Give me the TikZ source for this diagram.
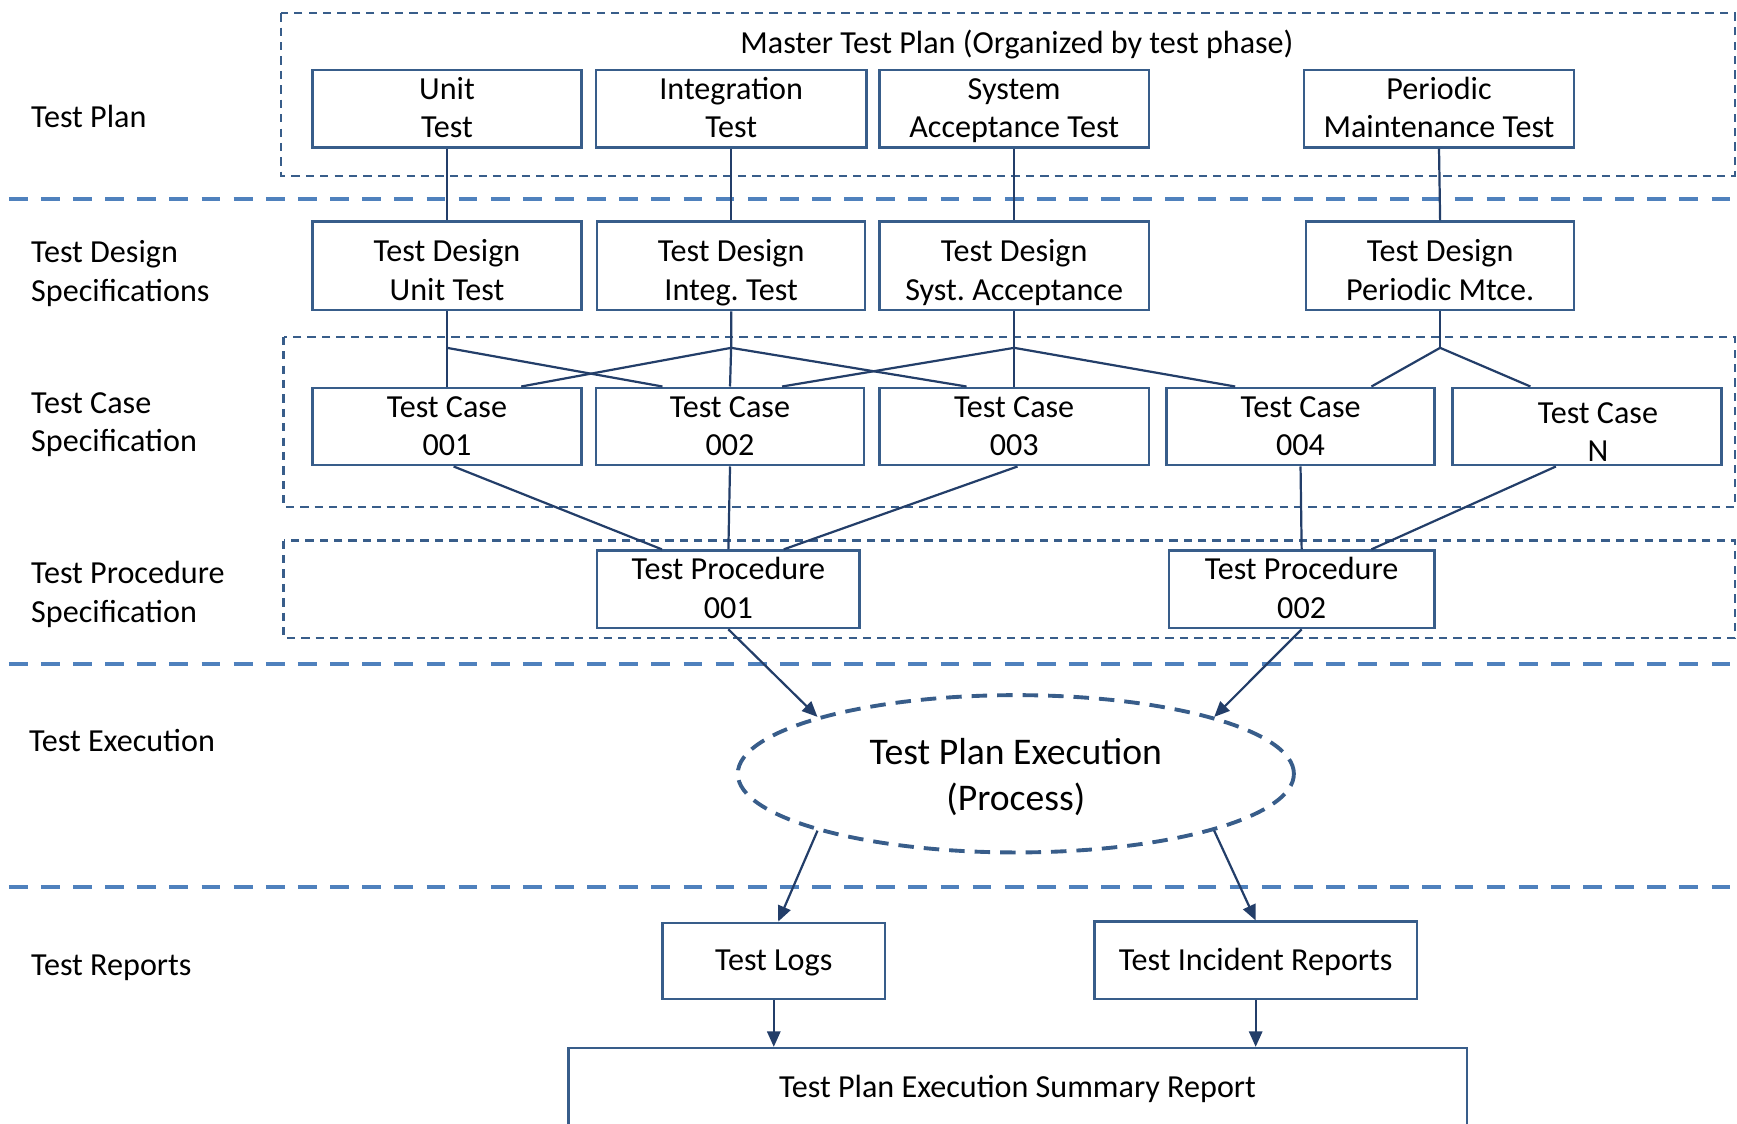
\documentclass[tikz,border=0pt]{standalone}
\usepackage{fontspec}
\setmainfont{Carlito}
\usetikzlibrary{shapes.geometric,arrows.meta}
\definecolor{boxc}{RGB}{56,93,138}
\definecolor{sepc}{RGB}{79,129,189}
\definecolor{linec}{RGB}{35,62,105}
\newcommand{\mystrut}{\rule[-8.5pt]{0pt}{35pt}}
\newcommand{\bigstrut}{\rule[-8pt]{0pt}{41pt}}
\newcommand{\twol}[2]{\mystrut#1\\#2\mystrut}
\newcommand{\onel}[1]{\mystrut#1\mystrut}
\newcommand{\twod}[2]{\rule{0pt}{34.6pt}#1\\#2\rule[-7pt]{0pt}{7pt}}
\begin{document}
\frenchspacing
\begin{tikzpicture}[x=1pt,y=-1pt,
  txt/.style={font=\fontsize{29}{35}\selectfont},
  box/.style={txt,draw=boxc,line width=2.2pt,minimum height=70pt,inner sep=0pt,align=center},
  lbl/.style={txt,anchor=west,align=left,inner sep=0pt},
  region/.style={draw=boxc,line width=2pt,dash pattern=on 7.5pt off 5.5pt},
  sepline/.style={draw=sepc,line width=3.6pt,dash pattern=on 17pt off 12pt},
  conn/.style={draw=linec,line width=2pt},
  arr/.style={conn,-{Triangle[length=14pt,width=12pt]}}]
\useasboundingbox (0,0) rectangle (1568,1014);
\clip (0,0) rectangle (1568,1014);

% separators
\draw[sepline] (8,180) -- (1568,180);
\draw[sepline] (8,599) -- (1568,599);
\draw[sepline] (8,801) -- (1568,801);

% dashed regions
\draw[region] (254,12) rectangle (1566,159);
\draw[region] (256,304) rectangle (1566,458);
\draw[region] (256,488) rectangle (1566,576);

% left labels
\node[lbl] (l1) at (28,106) {\onel{Test Plan}};
\node[lbl] (l2) at (28,245.5) {\twol{Test Design}{Specifications}};
\node[lbl] (l3) at (28,381.5) {\twol{Test Case}{Specification}};
\node[lbl] (l4) at (28,535) {\twol{Test Procedure}{Specification}};
\node[lbl] (l5) at (26,669) {\onel{Test Execution}};
\node[lbl] (l6) at (28,872) {\onel{Test Reports}};

% master plan title
\node[txt,inner sep=0pt] (mtp) at (918,39) {\onel{Master Test Plan (Organized by test phase)}};

% row 1
\node[box,minimum width=243pt] (ut) at (403.5,98) {\twol{Unit}{Test}};
\node[box,minimum width=244pt] (it) at (660,98) {\twol{Integration}{Test}};
\node[box,minimum width=243pt] (st) at (915.5,98) {\twol{System}{Acceptance Test}};
\node[box,minimum width=244pt] (pt) at (1299,98) {\twol{Periodic}{Maintenance Test}};

% row 2
\node[box,minimum width=243pt,minimum height=80pt] (du) at (403.5,240) {\twod{Test Design}{Unit Test}};
\node[box,minimum width=242pt,minimum height=80pt] (di) at (660,240) {\twod{Test Design}{Integ. Test}};
\node[box,minimum width=243pt,minimum height=80pt] (ds) at (915.5,240) {\twod{Test Design}{Syst. Acceptance}};
\node[box,minimum width=242pt,minimum height=80pt] (dp) at (1300,240) {\twod{Test Design}{Periodic Mtce.}};

% row 3
\node[box,minimum width=243pt] (c1) at (403.5,385) {\twol{Test Case}{001}};
\node[box,minimum width=242pt] (c2) at (659,385) {\twol{Test Case}{002}};
\node[box,minimum width=243pt] (c3) at (915.5,385) {\twol{Test Case}{003}};
\node[box,minimum width=242pt] (c4) at (1174,385) {\twol{Test Case}{004}};
\node[box,minimum width=243pt] (cn) at (1432.5,385) {\twol{\hspace*{20pt}\raisebox{-5.5pt}{Test Case}}{\hspace*{20pt}\raisebox{-5.5pt}{N}}};

% row 4
\node[box,minimum width=237pt] (p1) at (657.5,532) {\twol{Test Procedure}{001}};
\node[box,minimum width=240pt] (p2) at (1175,532) {\twol{Test Procedure}{002}};

% execution
\node[ellipse,draw=boxc,line width=3.5pt,dash pattern=on 14pt off 9pt,
      minimum width=502pt,minimum height=142pt,align=center,
      font=\fontsize{34}{41}\selectfont] (ex) at (917,698.5) {\bigstrut Test Plan Execution\\(Process)\bigstrut};

% reports
\node[box,minimum width=201pt,minimum height=69pt] (lg) at (698.5,867.5) {\onel{Test Logs}};
\node[box,minimum width=291pt,minimum height=70pt] (ir) at (1133.5,867) {\onel{Test Incident Reports}};
\node[box,minimum width=811pt,minimum height=71pt,anchor=north] (sr) at (918.5,945) {\onel{Test Plan Execution Summary Report}};

% row1 -> row2
\draw[conn] (ut.south) -- (du.north);
\draw[conn] (it.south) -- (di.north);
\draw[conn] (st.south) -- (ds.north);
\draw[conn] (pt.south) -- (dp.north);

% branch points
\coordinate (bu) at (403.5,314);
\coordinate (bi) at (660,314);
\coordinate (bs) at (915.5,314);
\coordinate (bp) at (1300,314);
\draw[conn] (du.south) -- (bu) -- (c1.north);
\draw[conn] (bu) -- ([xshift=-61pt]c2.north);
\draw[conn] (di.south) -- (bi) -- (c2.north);
\draw[conn] (bi) -- ([xshift=67pt]c1.north);
\draw[conn] (bi) -- ([xshift=-43pt]c3.north);
\draw[conn] (ds.south) -- (bs) -- (c3.north);
\draw[conn] (bs) -- ([xshift=47pt]c2.north);
\draw[conn] (bs) -- ([xshift=-59pt]c4.north);
\draw[conn] (dp.south) -- (bp);
\draw[conn] (bp) -- ([xshift=64pt]c4.north);
\draw[conn] (bp) -- ([xshift=-51pt]cn.north);

% cases -> procedures
\draw[conn] ([xshift=6pt]c1.south) -- ([xshift=-60pt]p1.north);
\draw[conn] (c2.south) -- (p1.north);
\draw[conn] ([xshift=3pt]c3.south) -- ([xshift=50pt]p1.north);
\draw[conn] (c4.south) -- (p2.north);
\draw[conn] ([xshift=-28pt]cn.south) -- ([xshift=63pt]p2.north);

% procedures -> execution
\draw[arr] (p1.south) -- (ex.164);
\draw[arr] (p2.south) -- (ex.16);

% execution -> reports
\draw[arr] (ex.196) -- ([xshift=4pt]lg.north);
\draw[arr] (ex.344) -- (ir.north);

% reports -> summary
\draw[arr] (lg.south) -- (lg.south |- sr.north);
\draw[arr] (ir.south) -- (ir.south |- sr.north);
\end{tikzpicture}
\end{document}
